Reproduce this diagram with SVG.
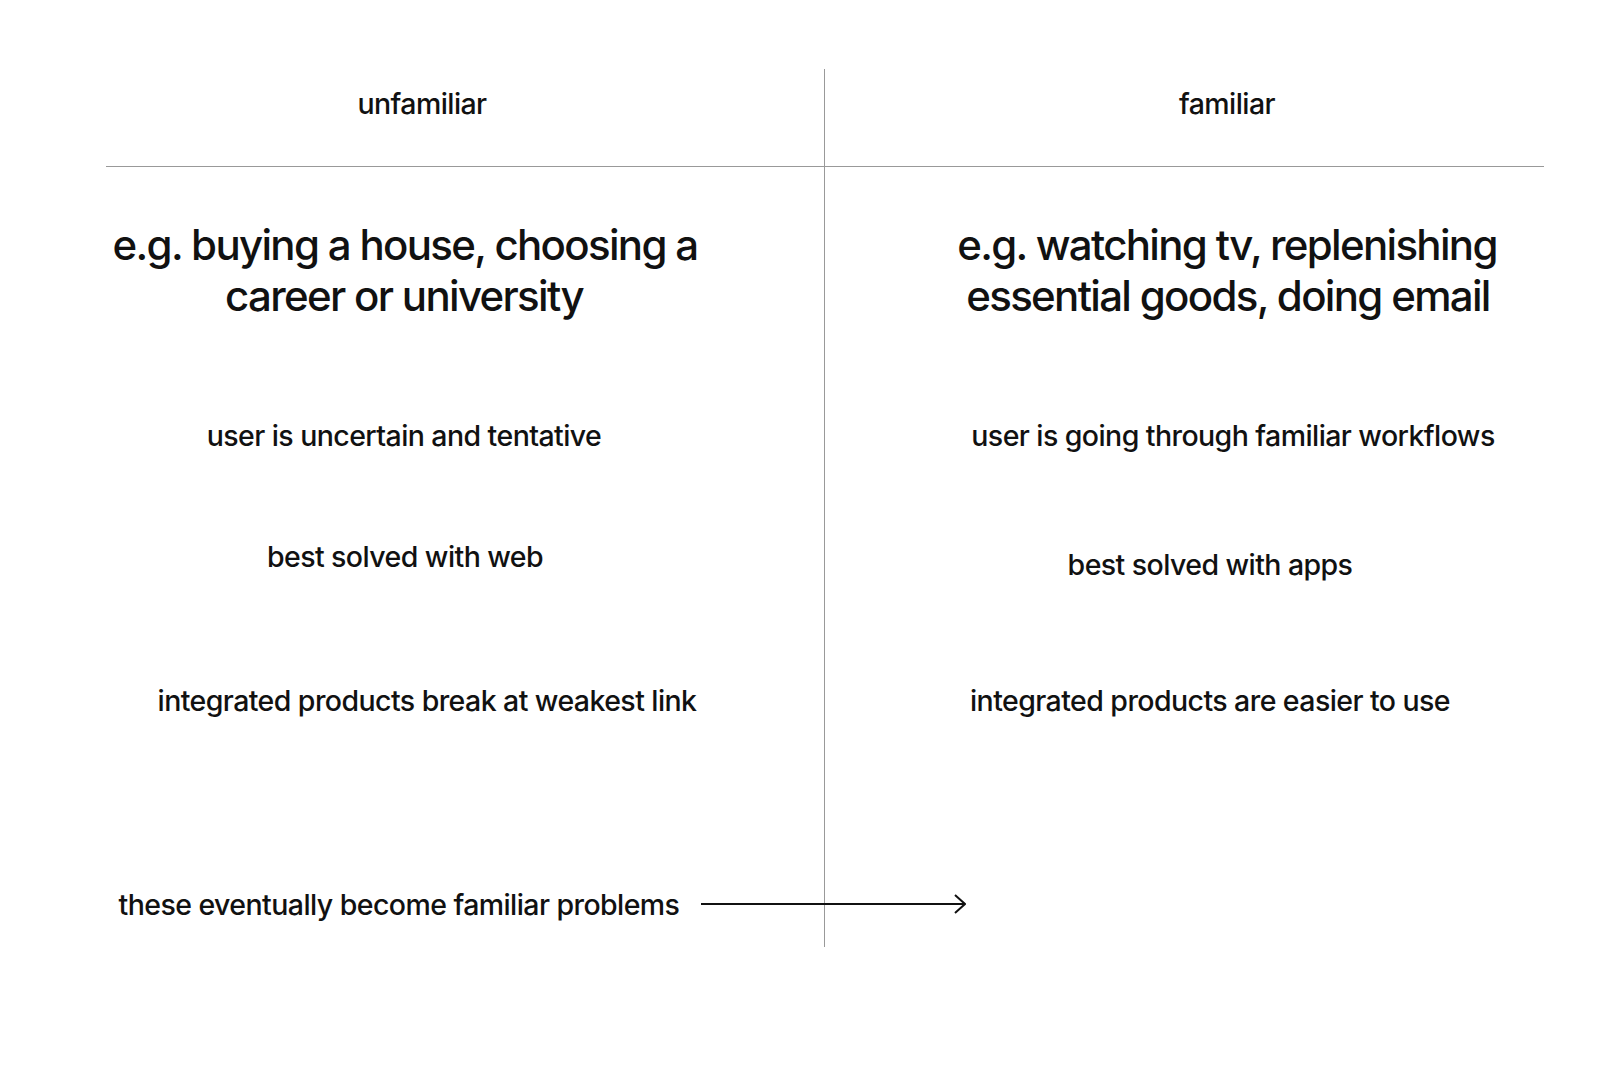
<svg xmlns="http://www.w3.org/2000/svg" width="1600" height="1079" viewBox="0 0 1600 1079">
<style>
text{font-family:Inter,"Liberation Sans",sans-serif;fill:#111;text-anchor:middle;letter-spacing:-0.02em}
.h{font-size:28.5px;font-weight:500}
.b{font-size:42px;font-weight:500;letter-spacing:-0.04em}
.m{font-size:28.5px;font-weight:500}
.grid{stroke:#999;stroke-width:1;fill:none}
.arr{stroke:#111;stroke-width:2;fill:none}
</style>
<defs>
<marker id="ah" viewBox="0 0 12 20" refX="11" refY="10" markerWidth="12" markerHeight="20" markerUnits="userSpaceOnUse" orient="auto">
<path d="M1,1 L11,10 L1,19" fill="none" stroke="#111" stroke-width="2"/>
</marker>
</defs>
<rect width="1600" height="1079" fill="#fff"/>
<g id="grid">
<line class="grid" x1="106" y1="166.5" x2="1544" y2="166.5"/>
<line class="grid" x1="824.5" y1="69" x2="824.5" y2="947"/>
</g>
<g id="unfamiliar"><text class="h" x="422" y="114">unfamiliar</text></g>
<g id="familiar"><text class="h" x="1227" y="114">familiar</text></g>
<g id="example-unfamiliar"><text class="b" x="405" y="260">e.g. buying a house, choosing a</text><text class="b" x="404" y="311">career or university</text></g>
<g id="example-familiar"><text class="b" x="1227" y="260">e.g. watching tv, replenishing</text><text class="b" x="1228" y="311">essential goods, doing email</text></g>
<g id="uncertain"><text class="m" x="404" y="446">user is uncertain and tentative</text></g>
<g id="workflows"><text class="m" x="1233" y="446">user is going through familiar workflows</text></g>
<g id="web"><text class="m" x="405" y="567">best solved with web</text></g>
<g id="apps"><text class="m" x="1210" y="575">best solved with apps</text></g>
<g id="weakest"><text class="m" x="427" y="711">integrated products break at weakest link</text></g>
<g id="easier"><text class="m" x="1210" y="711">integrated products are easier to use</text></g>
<g id="eventually"><text class="m" x="399" y="915">these eventually become familiar problems</text></g>
<g id="connectors">
<line class="arr" x1="701" y1="904" x2="965" y2="904" marker-end="url(#ah)"/>
</g>
</svg>
